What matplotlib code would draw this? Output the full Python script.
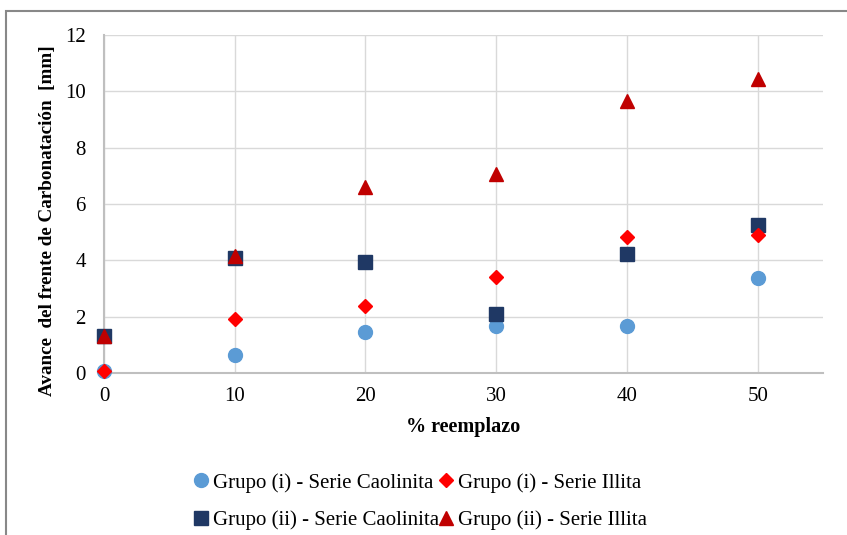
import matplotlib.pyplot as plt
from matplotlib.patches import Rectangle

# --------------------------
# Datos
# --------------------------
reemplazo = [0, 10, 20, 30, 40, 50]

caolinita_i = [0.08, 0.64, 1.45, 1.68, 1.68, 3.37]
illita_i = [0.07, 1.92, 2.38, 3.41, 4.83, 4.90]
caolinita_ii = [1.31, 4.08, 3.95, 2.09, 4.22, 5.27]
illita_ii = [1.33, 4.15, 6.60, 7.07, 9.65, 10.44]

etiquetas = ["Grupo (i) - Serie Caolinita", "Grupo (i) - Serie Illita",
             "Grupo (ii) - Serie Caolinita", "Grupo (ii) - Serie Illita"]

plt.rcParams['font.family'] = ['Liberation Serif', 'DejaVu Serif']

fig = plt.figure(figsize=(8.47, 5.35), dpi=100)
ax = fig.add_axes([0.1228, 0.3028, 0.8489, 0.6318])

# marco exterior del gráfico
fig.patches.append(Rectangle((0.007, -0.05), 1.1, 1.03, transform=fig.transFigure,
                             fill=False, edgecolor='#888888', linewidth=1.5))

h1, = ax.plot(reemplazo, caolinita_i, 'o', color='#5B9BD5', markersize=10, clip_on=False, zorder=3)
h2, = ax.plot(reemplazo, illita_i, 'D', color='#FF0000', markersize=7, clip_on=False, zorder=4)
h3, = ax.plot(reemplazo, caolinita_ii, 's', color='#1F3864', markersize=9.5, clip_on=False, zorder=3)
h4, = ax.plot(reemplazo, illita_ii, '^', color='#C00000', markersize=9.5, clip_on=False, zorder=4)

ax.set_xlim(0, 55)
ax.set_ylim(0, 12)
ax.set_xticks([0, 10, 20, 30, 40, 50])
ax.set_yticks([0, 2, 4, 6, 8, 10, 12])
ax.grid(True, color='#D9D9D9', linewidth=1)
ax.set_axisbelow(True)
for s in ['top', 'right']:
    ax.spines[s].set_visible(False)
ax.spines['left'].set_color('#BFBFBF')
ax.spines['bottom'].set_color('#BFBFBF')
ax.spines['left'].set_linewidth(1.5)
ax.spines['bottom'].set_linewidth(1.5)
ax.tick_params(axis='both', length=0, labelsize=15)
ax.tick_params(axis='y', pad=13)
ax.tick_params(axis='x', pad=10)

ax.set_xlabel("% reemplazo", fontsize=14.5, fontweight='bold', labelpad=8)
ax.set_ylabel("Avance  del frente de Carbonatación  [mm]", fontsize=13.8, fontweight='bold')
ax.yaxis.set_label_coords(-0.067, 0.45)

# orden por filas como en la leyenda original
ax.legend([h1, h3, h2, h4], [etiquetas[0], etiquetas[2], etiquetas[1], etiquetas[3]],
          loc='center', bbox_to_anchor=(0.437, -0.38), ncol=2, frameon=False, fontsize=15,
          handletextpad=0.0, columnspacing=-0.2, labelspacing=0.85, handlelength=1.1)

fig.savefig("out.png", dpi=100)
